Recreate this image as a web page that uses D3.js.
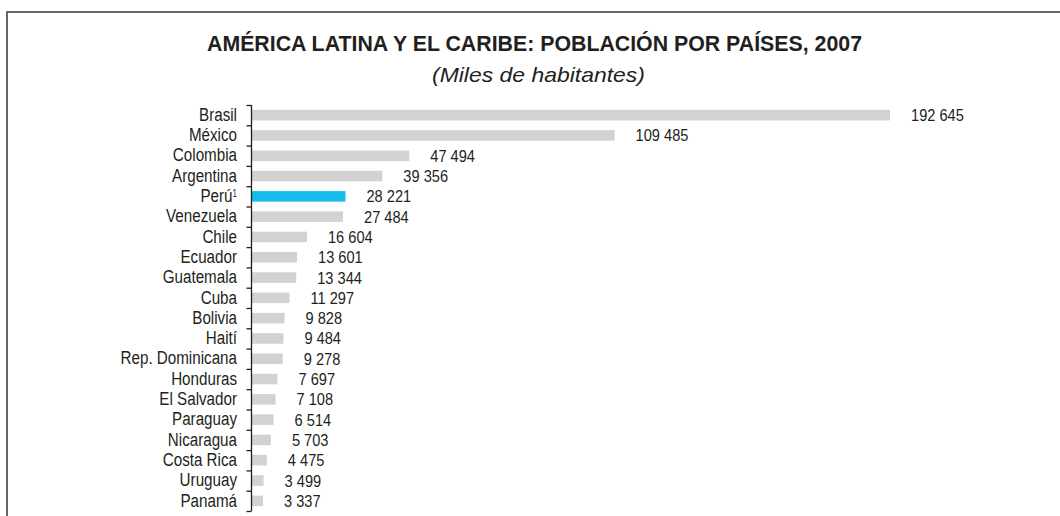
<!DOCTYPE html>
<html>
<head>
<meta charset="utf-8">
<script src="https://cdn.jsdelivr.net/npm/d3@7"></script>
<style>
  html, body { margin: 0; padding: 0; background: #fff; overflow: hidden; }
  svg { display: block; }
  text { font-family: "Liberation Sans", Arial, sans-serif; fill: #231f20; }
</style>
</head>
<body>
<div id="container"></div>
<script>
// data
var countries = ["Brasil", "México", "Colombia", "Argentina", "Perú", "Venezuela", "Chile", "Ecuador",
  "Guatemala", "Cuba", "Bolivia", "Haití", "Rep. Dominicana", "Honduras", "El Salvador", "Paraguay",
  "Nicaragua", "Costa Rica", "Uruguay", "Panamá"];
var population = [192645, 109485, 47494, 39356, 28221, 27484, 16604, 13601, 13344, 11297, 9828, 9484,
  9278, 7697, 7108, 6514, 5703, 4475, 3499, 3337];
var highlight = "Perú";
var footnote = { "Perú": "1" };

var title = "AMÉRICA LATINA Y EL CARIBE: POBLACIÓN POR PAÍSES, 2007";
var subtitle = "(Miles de habitantes)";

var width = 1060, height = 516;

var svg = d3.select("div#container")
  .append("svg")
  .attr("width", width)
  .attr("height", height);

// frame (top + left edge)
svg.append("path")
  .attr("d", "M7,516V12H1060")
  .attr("fill", "none")
  .attr("stroke", "#666")
  .attr("stroke-width", 2);

svg.append("text")
  .attr("x", 207).attr("y", 51)
  .attr("font-size", 22)
  .attr("font-weight", "bold")
  .attr("textLength", 655)
  .attr("lengthAdjust", "spacingAndGlyphs")
  .text(title);

svg.append("text")
  .attr("x", 432).attr("y", 82)
  .attr("font-size", 21)
  .attr("font-style", "italic")
  .attr("textLength", 213)
  .attr("lengthAdjust", "spacingAndGlyphs")
  .text(subtitle);

var data = countries.map(function(c, i) { return { name: c, value: population[i] }; });

var x = d3.scaleLinear()
  .domain([0, d3.max(population)])
  .range([252, 890]);

var y = d3.scaleBand()
  .domain(countries)
  .range([105, 511])
  .paddingInner(0.48)
  .paddingOuter(0.24);

// bars
svg.append("g")
  .selectAll("rect")
  .data(data)
  .enter().append("rect")
  .attr("x", x(0))
  .attr("y", function(d) { return y(d.name); })
  .attr("width", function(d) { return x(d.value) - x(0); })
  .attr("height", y.bandwidth())
  .attr("fill", function(d) { return d.name === highlight ? "#15bdee" : "#d1d2d4"; });

// value labels (squeezed a bit, no narrow font here)
svg.append("g")
  .selectAll("text")
  .data(data)
  .enter().append("text")
  .attr("transform", function(d) {
    return "translate(" + (x(d.value) + 21) + "," + (y(d.name) + y.bandwidth() / 2) + ") scale(0.86,1)";
  })
  .attr("dy", "0.35em")
  .attr("font-size", 17)
  .text(function(d) { return d3.format(",")(d.value).replace(/,/g, " "); });

// axis with ticks between the bands
var step = y.step();
var axisG = svg.append("g").attr("stroke", "#231f20").attr("stroke-width", 1.3);
axisG.append("line")
  .attr("x1", 251.5).attr("x2", 251.5)
  .attr("y1", 105).attr("y2", 511);
axisG.selectAll("line.tick")
  .data(d3.range(countries.length + 1))
  .enter().append("line")
  .attr("class", "tick")
  .attr("x1", 246.5).attr("x2", 251.5)
  .attr("y1", function(i) { return 105.5 + i * step; })
  .attr("y2", function(i) { return 105.5 + i * step; });

// category labels
var labels = svg.append("g")
  .selectAll("text")
  .data(data)
  .enter().append("text")
  .attr("transform", function(d) {
    return "translate(237," + (y(d.name) + y.bandwidth() / 2) + ") scale(0.8,1)";
  })
  .attr("dy", "0.3em")
  .attr("text-anchor", "end")
  .attr("font-size", 19);
labels.append("tspan").text(function(d) { return d.name; });
labels.filter(function(d) { return footnote[d.name]; })
  .append("tspan")
  .attr("dy", "-0.5em")
  .attr("font-size", 10)
  .text(function(d) { return footnote[d.name]; });
</script>
</body>
</html>
